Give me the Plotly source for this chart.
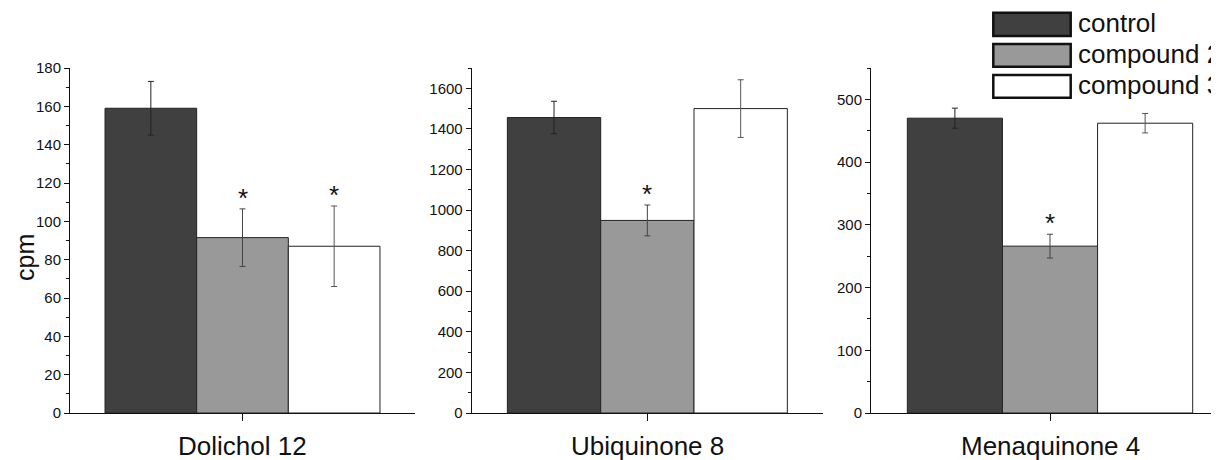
import plotly.graph_objects as go

# ---- data ----
panels = ["Dolichol 12", "Ubiquinone 8", "Menaquinone 4"]
series = ["control", "compound 2", "compound 3"]
values = {
    "control":    [159, 1456, 470],
    "compound 2": [91.5, 949, 266],
    "compound 3": [87, 1500, 462],
}
errors = {
    "control":    [14, 80, 16],
    "compound 2": [15, 76, 19],
    "compound 3": [21, 142, 15.5],
}
significant = {
    "control":    [False, False, False],
    "compound 2": [True, True, True],
    "compound 3": [True, False, False],
}
y_max = [180, 1700, 550]
y_dtick = [20, 200, 100]
y_minor = [10, 100, 50]

colors = {"control": "#404040", "compound 2": "#999999", "compound 3": "#ffffff"}
err_colors = {"control": "#222222", "compound 2": "#444444", "compound 3": "#555555"}

# page body has an 8px margin: the figure sits at (8, 8) in the window
OFF = 8
W, H = 1219 - OFF, 460 - OFF
FONT = "Liberation Sans, Arial"


def px(x):
    return (x - OFF) / W


def py(y):
    return (H - (y - OFF)) / H


fig = go.Figure()

x_domains = [(px(70), px(415)), (px(471.7), px(823)), (px(871), 1.0)]
x_ranges = [[-0.5, 0.5], [-0.5, 0.5], [-0.5, 0.472]]
y_domain = [py(413), py(68)]

for i, p in enumerate(panels):
    ax = "" if i == 0 else str(i + 1)
    for s in series:
        fig.add_trace(go.Bar(
            x=[p], y=[values[s][i]],
            name=s, showlegend=False,
            marker=dict(color=colors[s], line=dict(color="#222222", width=1)),
            error_y=dict(type="data", array=[errors[s][i]], visible=True,
                         color=err_colors[s], thickness=1, width=3),
            xaxis="x" + ax, yaxis="y" + ax,
            offsetgroup=s,
        ))
    xa = dict(domain=list(x_domains[i]), range=x_ranges[i], anchor="y" + ax,
              showline=True, linecolor="#111111", linewidth=1,
              ticks="outside", ticklen=7, tickcolor="#111111",
              showticklabels=False, showgrid=False, zeroline=False,
              type="category", fixedrange=True, automargin=False)
    ya = dict(domain=y_domain, range=[0, y_max[i]], anchor="x" + ax,
              showline=True, linecolor="#111111", linewidth=1,
              ticks="outside", ticklen=5, tickcolor="#111111",
              dtick=y_dtick[i], tick0=0,
              minor=dict(dtick=y_minor[i], tick0=0, ticks="outside", ticklen=3,
                         tickcolor="#111111", showgrid=False),
              tickfont=dict(family=FONT, size=15, color="#111111"),
              showgrid=False, zeroline=False, fixedrange=True,
              ticklabelstandoff=0, automargin=False)
    fig.update_layout(**{"xaxis" + ax: xa, "yaxis" + ax: ya})

    # category label
    fig.add_annotation(text=p, x=p, xref="x" + ax, y=py(446), yref="paper",
                       yanchor="middle", showarrow=False,
                       font=dict(family=FONT, size=26, color="#111111"))
    # asterisks above significant bars
    for k, s in enumerate(series):
        if significant[s][i]:
            off = (k - 1) * 0.797 / 3
            top = values[s][i] + errors[s][i]
            fig.add_annotation(text="*", xref="x" + ax, yref="y" + ax,
                               x=off, y=top, yanchor="bottom", yshift=-6,
                               showarrow=False,
                               font=dict(family=FONT, size=26, color="#111111"))

# y axis title
fig.add_annotation(text="cpm", x=px(25), xref="paper", y=py(258), yref="paper",
                   textangle=-90, showarrow=False, xanchor="center", yanchor="middle",
                   font=dict(family=FONT, size=25, color="#111111"))

# legend (drawn)
leg_y = [(12.7, 36), (44, 66.7), (75, 97.7)]
for s, (y0, y1) in zip(series, leg_y):
    fig.add_shape(type="rect", xref="paper", yref="paper",
                  x0=px(993.3), x1=px(1070.7), y0=py(y1), y1=py(y0),
                  fillcolor=colors[s], line=dict(color="#111111", width=2.5))
    fig.add_annotation(text=s, xref="paper", yref="paper", x=px(1076),
                       y=py((y0 + y1) / 2 - 1), xanchor="left", yanchor="middle",
                       showarrow=False,
                       font=dict(family=FONT, size=26, color="#111111"))

fig.update_layout(width=W, height=H, margin=dict(l=0, r=0, t=0, b=0),
                  paper_bgcolor="white", plot_bgcolor="white",
                  barmode="group", bargap=0.203, bargroupgap=0,
                  showlegend=False)

fig.write_html("out.html")
